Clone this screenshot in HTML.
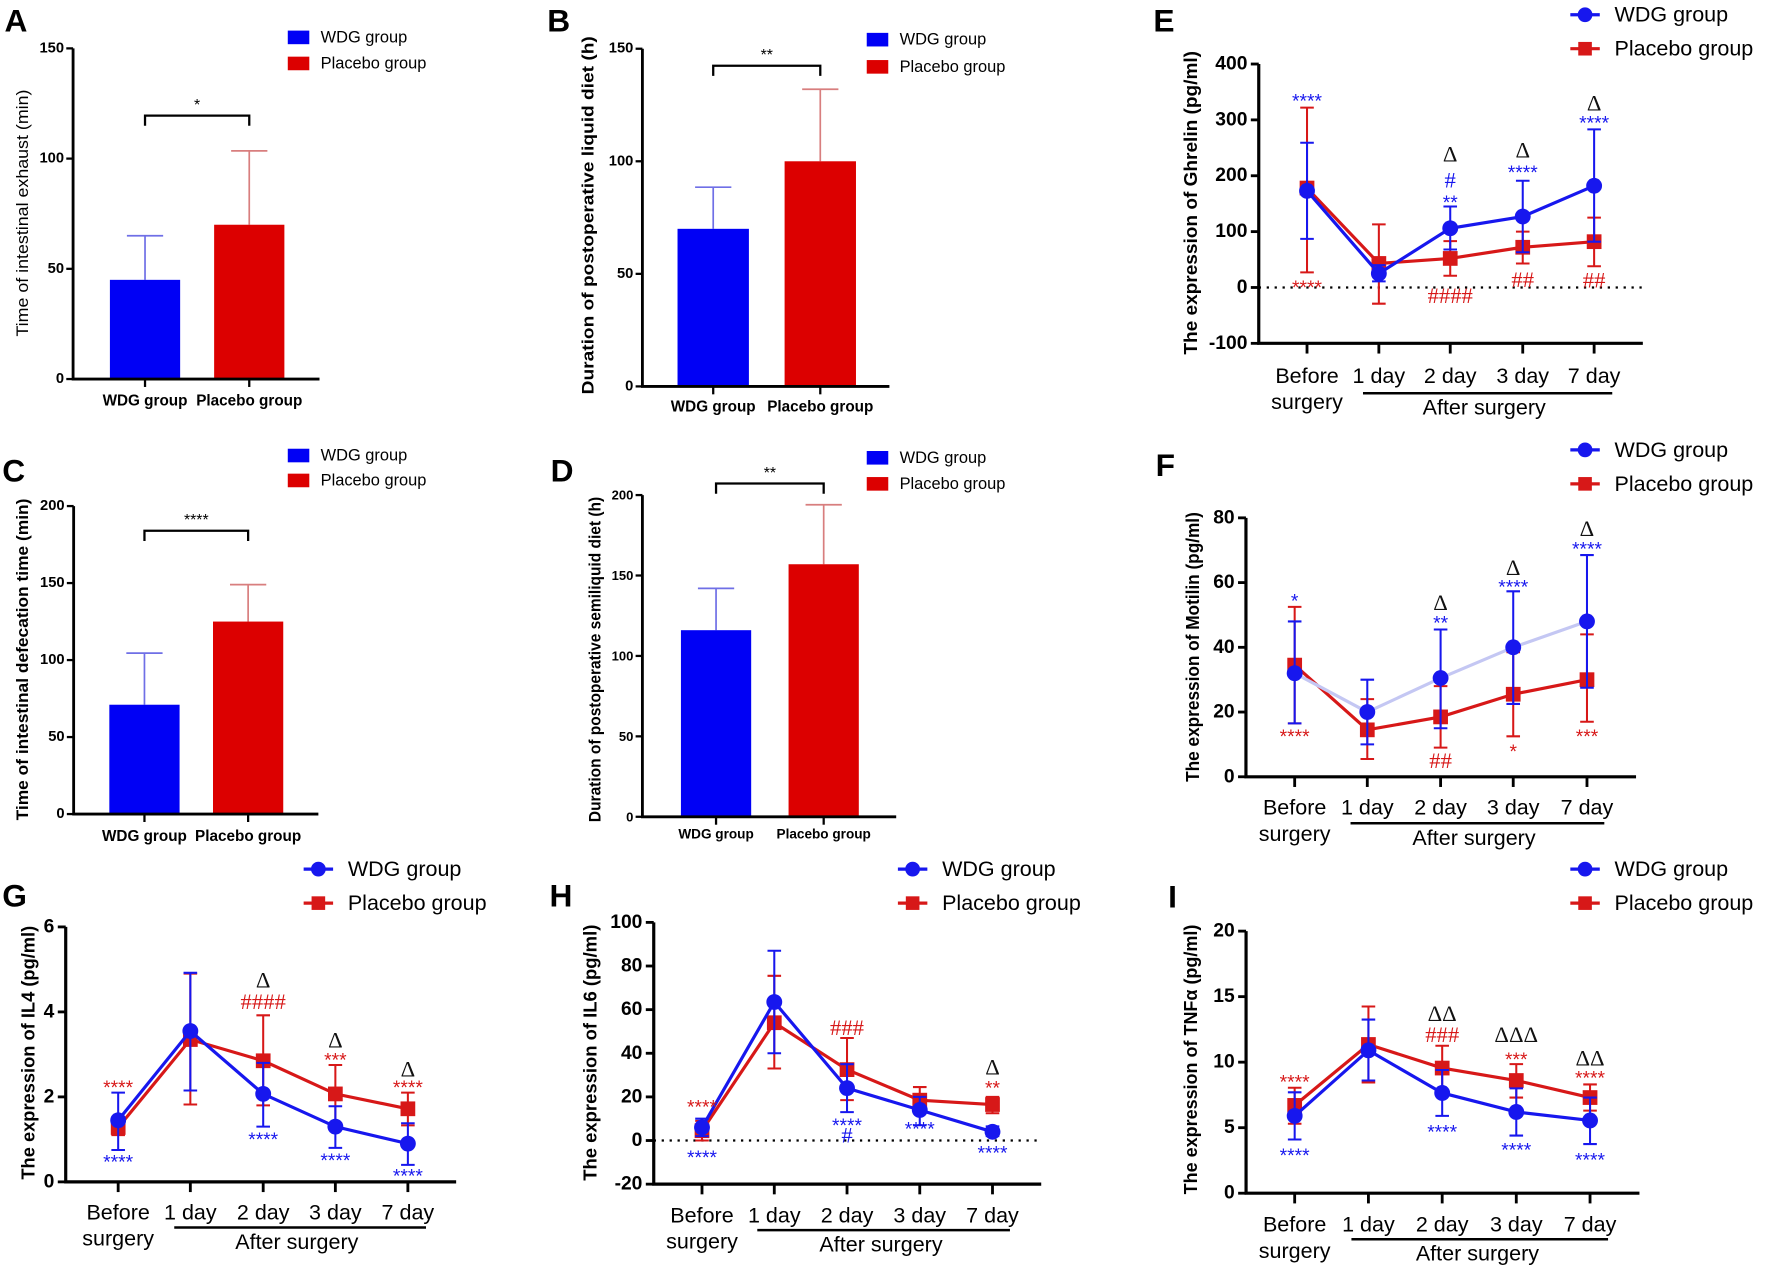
<!DOCTYPE html>
<html><head><meta charset="utf-8"><title>Figure</title>
<style>
html,body{margin:0;padding:0;background:#fff;}
svg{display:block;font-family:"Liberation Sans",Arial,sans-serif;}
</style></head>
<body>
<svg id="fig" xmlns="http://www.w3.org/2000/svg" width="1772" height="1268" viewBox="0 0 1564 1119" preserveAspectRatio="none"></svg>
<script>
// ---------- data ----------
const barGroups = ['WDG group', 'Placebo group'];
const exhaustMean = [45, 70];
const exhaustSD = [20, 33.5];
const liquidMean = [70, 100];
const liquidSD = [18.5, 32];
const defecationMean = [71, 125];
const defecationSD = [33.5, 24];
const semiliquidMean = [116, 157];
const semiliquidSD = [26, 37];
const ticks150 = [0, 50, 100, 150];
const ticks200 = [0, 50, 100, 150, 200];

const timeCats = ['Before', '1 day', '2 day', '3 day', '7 day'];

const ghrelinTicks = [-100, 0, 100, 200, 300, 400];
const ghrelinWdg = [173, 25, 106, 127, 182];
const ghrelinWdgHi = [259, 40, 145, 191, 283];
const ghrelinWdgLo = [87, 11, 68, 63, 82];
const ghrelinPla = [178, 43, 52, 72, 82];
const ghrelinPlaHi = [322, 113, 83, 100, 125];
const ghrelinPlaLo = [27, -29, 21, 43, 38];
const ghrelinNotes = [[0,341,'****','b'],[0,7,'****','r'],[2,239,'Δ','k'],[2,192,'#','b'],[2,159,'**','b'],[2,-14,'####','r'],[3,246,'Δ','k'],[3,213,'****','b'],[3,14,'##','r'],[4,330,'Δ','k'],[4,302,'****','b'],[4,13,'##','r']];

const motilinTicks = [0, 20, 40, 60, 80];
const motilinWdg = [32, 20, 30.5, 40, 48];
const motilinWdgHi = [48, 30, 45.5, 57.3, 68.5];
const motilinWdgLo = [16.5, 10, 15, 22.5, 27.5];
const motilinPla = [34.5, 14.5, 18.5, 25.5, 30];
const motilinPlaHi = [52.5, 24, 28, 38.5, 44];
const motilinPlaLo = [16.5, 5.5, 9, 12.5, 17];
const motilinNotes = [[0,55.6,'*','b'],[0,13.7,'****','r'],[2,53.8,'Δ','k'],[2,48.7,'**','b'],[2,5.1,'##','r'],[3,64.7,'Δ','k'],[3,59.9,'****','b'],[3,9,'*','r'],[4,76.7,'Δ','k'],[4,71.6,'****','b'],[4,13.7,'***','r']];

const il4Ticks = [0, 2, 4, 6];
const il4Wdg = [1.45, 3.55, 2.07, 1.3, 0.9];
const il4WdgHi = [2.1, 4.92, 2.8, 1.78, 1.38];
const il4WdgLo = [0.75, 2.15, 1.3, 0.8, 0.4];
const il4Pla = [1.28, 3.35, 2.85, 2.07, 1.72];
const il4PlaHi = [1.45, 4.9, 3.92, 2.75, 2.1];
const il4PlaLo = [1.1, 1.82, 1.8, 1.38, 1.33];
const il4Notes = [[0,2.32,'****','r'],[0,0.56,'****','b'],[2,4.75,'Δ','k'],[2,4.24,'####','r'],[2,1.09,'****','b'],[3,3.34,'Δ','k'],[3,2.97,'***','r'],[3,0.6,'****','b'],[4,2.66,'Δ','k'],[4,2.32,'****','r'],[4,0.23,'****','b']];

const il6Ticks = [-20, 0, 20, 40, 60, 80, 100];
const il6Wdg = [6, 63.5, 24, 14, 4];
const il6WdgHi = [10, 87, 35, 20, 6.5];
const il6WdgLo = [2, 40, 13, 7, 2];
const il6Pla = [4.5, 54, 32.5, 18.5, 16.5];
const il6PlaHi = [9, 75.5, 47, 24.5, 20];
const il6PlaLo = [0, 33, 18.5, 13, 12.5];
const il6Notes = [[0,17.2,'****','r'],[0,-5.8,'****','b'],[2,51.9,'###','r'],[2,8.7,'****','b'],[2,2.6,'#','b'],[3,7.2,'****','b'],[4,33.7,'Δ','k'],[4,25.9,'**','r'],[4,-3.8,'****','b']];

const tnfTicks = [0, 5, 10, 15, 20];
const tnfWdg = [5.9, 10.9, 7.65, 6.2, 5.55];
const tnfWdgHi = [7.7, 13.25, 9.4, 8, 7.3];
const tnfWdgLo = [4.1, 8.6, 5.9, 4.4, 3.75];
const tnfPla = [6.7, 11.35, 9.55, 8.6, 7.3];
const tnfPlaHi = [8.05, 14.25, 11.25, 9.85, 8.3];
const tnfPlaLo = [5.3, 8.45, 7.85, 7.3, 6.3];
const tnfNotes = [[0,8.8,'****','r'],[0,3.2,'****','b'],[2,13.7,'ΔΔ','k'],[2,12.1,'###','r'],[2,5.0,'****','b'],[3,12.1,'ΔΔΔ','k'],[3,10.5,'***','r'],[3,3.6,'****','b'],[4,10.3,'ΔΔ','k'],[4,9.1,'****','r'],[4,2.85,'****','b']];

// ---------- helpers ----------
const NS = 'http://www.w3.org/2000/svg';
const svg = document.getElementById('fig');
function mk(tag, attrs, parent) {
  const e = document.createElementNS(NS, tag);
  for (const k in attrs) e.setAttribute(k, attrs[k]);
  (parent || svg).appendChild(e);
  return e;
}
function txt(str, attrs, parent) { const e = mk('text', attrs, parent); e.textContent = str; return e; }
const BLUE = '#1717ee', RED = '#d71818';
const COL = { b: BLUE, r: RED, k: '#111' };

function letter(ch, x, y) {
  const t = txt(ch, { x: x, y: y, 'font-size': 28, 'font-weight': 'bold', fill: '#000' });
  
  
}

// ---------- bar panel ----------
function barPanel(id, cfg, means, sds, ticks) {
  const g = mk('g', {});
  
  
  const yMaxV = ticks[ticks.length - 1];
  const sy = v => cfg.y0 + (cfg.yTop - cfg.y0) * v / yMaxV;
  ticks.forEach(v => {
    const tk = mk('line', { x1: cfg.ax - 6, x2: cfg.ax, y1: sy(v), y2: sy(v), stroke: '#000', 'stroke-width': 2 }, g);
    
    
    const tl = txt(String(v), { x: cfg.ax - 8, y: sy(v), 'text-anchor': 'end', 'dominant-baseline': 'central', 'font-size': cfg.tickFs, 'font-weight': 'bold' }, g);
    
    
  });
  const colors = ['#0000f5', '#dc0000'];
  const errCol = ['#6f6fe6', '#d87e7e'];
  means.forEach((m, i) => {
    const cx = cfg.centers[i];
    const eb = mk('line', { x1: cx, x2: cx, y1: sy(m), y2: sy(m + sds[i]), stroke: errCol[i], 'stroke-width': 1.5 }, g);
    
    
    const cap = mk('line', { x1: cx - 16, x2: cx + 16, y1: sy(m + sds[i]), y2: sy(m + sds[i]), stroke: errCol[i], 'stroke-width': 1.5 }, g);
    
    
    const r = mk('rect', { x: cx - cfg.bw / 2, y: sy(m), width: cfg.bw, height: sy(0) - sy(m), fill: colors[i] }, g);
    
    
    const xt = mk('line', { x1: cx, x2: cx, y1: sy(0), y2: sy(0) + 7, stroke: '#000', 'stroke-width': 2 }, g);
    
    
    const xl = txt(barGroups[i], { x: cx, y: cfg.xlY, 'text-anchor': 'middle', 'font-size': cfg.xlFs, 'font-weight': 'bold' }, g);
    
    
  });
  const axes = mk('path', { d: `M${cfg.ax},${cfg.yTop} V${cfg.y0} H${cfg.end}`, fill: 'none', stroke: '#000', 'stroke-width': 2.5 }, g);
  
  
  const br = mk('path', { d: `M${cfg.centers[0]},${cfg.brY + 9} V${cfg.brY} H${cfg.centers[1]} V${cfg.brY + 9}`, fill: 'none', stroke: '#000', 'stroke-width': 2 }, g);
  
  
  const st = txt(cfg.star, { x: (cfg.centers[0] + cfg.centers[1]) / 2, y: cfg.brY - 5, 'text-anchor': 'middle', 'font-size': 14 }, g);
  
  
  const yl = txt(cfg.ylabel, { x: 0, y: 0, transform: `translate(${cfg.ylX},${cfg.ylY}) rotate(-90)`, 'text-anchor': 'middle', 'dominant-baseline': 'central', 'font-size': 15, 'font-weight': cfg.ylBold ? 'bold' : 'normal', textLength: cfg.ylLen, lengthAdjust: 'spacingAndGlyphs' }, g);
  
  
  [0, 1].forEach(i => {
    const lg = mk('g', {}, g);
    
    
    mk('rect', { x: cfg.lgX, y: cfg.lgY[i] - 6, width: 19, height: 12, fill: colors[i] }, lg);
    txt(barGroups[i], { x: cfg.lgX + 29, y: cfg.lgY[i], 'dominant-baseline': 'central', 'font-size': 14.5 }, lg);
  });
}

// ---------- line panel ----------
function linePanel(id, cfg, ticks, wdg, wdgHi, wdgLo, pla, plaHi, plaLo, notes) {
  const g = mk('g', {});
  
  
  const lo = ticks[0], hi = ticks[ticks.length - 1];
  const sy = v => cfg.yBot + (cfg.yTop - cfg.yBot) * (v - lo) / (hi - lo);
  ticks.forEach(v => {
    const tk = mk('line', { x1: cfg.ax - 7, x2: cfg.ax, y1: sy(v), y2: sy(v), stroke: '#000', 'stroke-width': 2.5 }, g);
    
    
    const tl = txt(String(v), { x: cfg.ax - 10, y: sy(v), 'text-anchor': 'end', 'dominant-baseline': 'central', 'font-size': 17, 'font-weight': 'bold' }, g);
    
    
  });
  if (lo < 0) {
    const z = mk('line', { x1: cfg.ax, x2: cfg.end, y1: sy(0), y2: sy(0), stroke: '#000', 'stroke-width': 2, 'stroke-dasharray': '2 5' }, g);
    
    
  }
  const axes = mk('path', { d: `M${cfg.ax},${cfg.yTop} V${cfg.yBot} H${cfg.end}`, fill: 'none', stroke: '#000', 'stroke-width': 2.8 }, g);
  
  
  cfg.cats.forEach((cx, i) => {
    const xt = mk('line', { x1: cx, x2: cx, y1: cfg.yBot, y2: cfg.yBot + 9, stroke: '#000', 'stroke-width': 2.5 }, g);
    
    
    const xl = txt(timeCats[i], { x: cx, y: cfg.xlY, 'text-anchor': 'middle', 'font-size': 19 }, g);
    
    
  });
  const s2 = txt('surgery', { x: cfg.cats[0], y: cfg.xlY + 23, 'text-anchor': 'middle', 'font-size': 19 }, g);
  
  
  const ul = mk('line', { x1: cfg.ul[0], x2: cfg.ul[1], y1: cfg.ulY, y2: cfg.ulY, stroke: '#000', 'stroke-width': 2.2 }, g);
  
  
  const af = txt('After surgery', { x: cfg.afX, y: cfg.ulY + 19, 'text-anchor': 'middle', 'font-size': 19 }, g);
  
  
  const yl = txt(cfg.ylabel, { x: 0, y: 0, transform: `translate(${cfg.ylX},${cfg.ylY}) rotate(-90)`, 'text-anchor': 'middle', 'dominant-baseline': 'central', 'font-size': 16, 'font-weight': 'bold', textLength: cfg.ylLen, lengthAdjust: 'spacingAndGlyphs' }, g);
  
  

  function series(name, vals, his, los, col, lineCol, square) {
    const sg = mk('g', {}, g);
    
    
    vals.forEach((v, i) => {
      const cx = cfg.cats[i];
      const e = mk('path', { d: `M${cx - 6},${sy(his[i])} H${cx + 6} M${cx},${sy(his[i])} V${sy(los[i])} M${cx - 6},${sy(los[i])} H${cx + 6}`, stroke: col, 'stroke-width': 1.8, fill: 'none' }, sg);
      
      
    });
    const pts = vals.map((v, i) => cfg.cats[i] + ',' + sy(v)).join(' ');
    const pl = mk('polyline', { points: pts, fill: 'none', stroke: lineCol, 'stroke-width': 2.8 }, sg);
    
    
    vals.forEach((v, i) => {
      const cx = cfg.cats[i];
      let m;
      if (square) m = mk('rect', { x: cx - 6.5, y: sy(v) - 6.5, width: 13, height: 13, fill: col }, sg);
      else m = mk('circle', { cx: cx, cy: sy(v), r: 7, fill: col }, sg);
      
      
    });
  }
  series('placebo', pla, plaHi, plaLo, RED, RED, true);
  series('wdg', wdg, wdgHi, wdgLo, BLUE, cfg.wdgLine || BLUE, false);

  notes.forEach(n => {
    const cx = cfg.cats[n[0]];
    const s = n[2];
    let fs = 20, fam = '"Liberation Serif", serif', dy = 0;
    if (s[0] === '*') { fs = 17; dy = 4.5; fam = '"Liberation Sans", sans-serif'; }
    const t = txt(s, { x: cx, y: sy(n[1]) + dy, 'text-anchor': 'middle', 'dominant-baseline': 'central', 'font-size': fs, 'font-family': fam, fill: COL[n[3]] }, g);
    
    
  });

  [['WDG group', BLUE, false], ['Placebo group', RED, true]].forEach((L, i) => {
    const lg = mk('g', {}, g);
    
    
    const y = cfg.lgY[i];
    mk('line', { x1: cfg.lgX - 13, x2: cfg.lgX + 13, y1: y, y2: y, stroke: L[1], 'stroke-width': 2.8 }, lg);
    if (L[2]) mk('rect', { x: cfg.lgX - 6, y: y - 6, width: 12, height: 12, fill: L[1] }, lg);
    else mk('circle', { cx: cfg.lgX, cy: y, r: 6.5, fill: L[1] }, lg);
    txt(L[0], { x: cfg.lgX + 26, y: y, 'dominant-baseline': 'central', 'font-size': 19 }, lg);
  });
}

// ---------- build ----------
letter('A', 4, 28); letter('B', 483, 28); letter('C', 2, 425); letter('D', 486, 425);
letter('E', 1018, 28); letter('F', 1020, 420); letter('G', 2, 800); letter('H', 485, 800); letter('I', 1031, 801);

barPanel('a', { ax: 64.5, end: 282, y0: 334.5, yTop: 42.7, centers: [128, 220], bw: 62, brY: 102, star: '*', tickFs: 13, xlY: 358, xlFs: 13.5,
  ylabel: 'Time of intestinal exhaust (min)', ylX: 20, ylY: 188, ylLen: 218, ylBold: false, lgX: 254, lgY: [33, 56] }, exhaustMean, exhaustSD, ticks150);
barPanel('b', { ax: 567, end: 785, y0: 341, yTop: 43, centers: [629.5, 724], bw: 63, brY: 58, star: '**', tickFs: 13, xlY: 363, xlFs: 13.5,
  ylabel: 'Duration of postoperative liquid diet (h)', ylX: 519, ylY: 190, ylLen: 316, ylBold: true, lgX: 765, lgY: [35, 59] }, liquidMean, liquidSD, ticks150);
barPanel('c', { ax: 65, end: 281, y0: 718.4, yTop: 446.6, centers: [127.5, 219], bw: 62, brY: 468.4, star: '****', tickFs: 13, xlY: 742, xlFs: 13.5,
  ylabel: 'Time of intestinal defecation time (min)', ylX: 20, ylY: 582, ylLen: 284, ylBold: true, lgX: 254, lgY: [402, 424] }, defecationMean, defecationSD, ticks200);
barPanel('d', { ax: 567, end: 791, y0: 720.8, yTop: 436.9, centers: [632, 727], bw: 62, brY: 426.7, star: '**', tickFs: 11.5, xlY: 740, xlFs: 12,
  ylabel: 'Duration of postoperative semiliquid diet (h)', ylX: 525, ylY: 582, ylLen: 287, ylBold: true, lgX: 765, lgY: [404, 427] }, semiliquidMean, semiliquidSD, ticks200);

linePanel('ghrelin', { ax: 1111, end: 1450, yTop: 56.5, yBot: 303, cats: [1153.6, 1217, 1280, 1344, 1407], xlY: 338, ul: [1203, 1423], ulY: 347, afX: 1310,
  ylabel: 'The expression of Ghrelin (pg/ml)', ylX: 1051, ylY: 179, ylLen: 268, lgX: 1399, lgY: [13, 43] },
  ghrelinTicks, ghrelinWdg, ghrelinWdgHi, ghrelinWdgLo, ghrelinPla, ghrelinPlaHi, ghrelinPlaLo, ghrelinNotes);
linePanel('motilin', { ax: 1099.7, end: 1444, yTop: 457, yBot: 685.5, cats: [1142.7, 1206.8, 1271.5, 1335.6, 1400.7], xlY: 719, ul: [1192, 1416], ulY: 726.5, afX: 1301,
  ylabel: 'The expression of Motilin (pg/ml)', ylX: 1053, ylY: 571, ylLen: 238, lgX: 1399, lgY: [397, 427], wdgLine: '#c4c7f3' },
  motilinTicks, motilinWdg, motilinWdgHi, motilinWdgLo, motilinPla, motilinPlaHi, motilinPlaLo, motilinNotes);
linePanel('il4', { ax: 58, end: 402.6, yTop: 818, yBot: 1043, cats: [104.3, 168, 232.3, 296, 360], xlY: 1076, ul: [153.8, 376], ulY: 1083.3, afX: 262,
  ylabel: 'The expression of IL4 (pg/ml)', ylX: 25, ylY: 929, ylLen: 224, lgX: 281, lgY: [767, 797] },
  il4Ticks, il4Wdg, il4WdgHi, il4WdgLo, il4Pla, il4PlaHi, il4PlaLo, il4Notes);
linePanel('il6', { ax: 577, end: 919, yTop: 814, yBot: 1045, cats: [619.6, 683.4, 747.6, 811.8, 876], xlY: 1079, ul: [668.4, 891.4], ulY: 1085.6, afX: 777.6,
  ylabel: 'The expression of IL6 (pg/ml)', ylX: 521, ylY: 929, ylLen: 226, lgX: 805.5, lgY: [767, 797] },
  il6Ticks, il6Wdg, il6WdgHi, il6WdgLo, il6Pla, il6PlaHi, il6PlaLo, il6Notes);
linePanel('tnf', { ax: 1099.8, end: 1447, yTop: 821.7, yBot: 1053, cats: [1142.7, 1207.8, 1272.9, 1338.3, 1403.4], xlY: 1087, ul: [1192.8, 1419.3], ulY: 1093.6, afX: 1304,
  ylabel: 'The expression of TNFα (pg/ml)', ylX: 1051, ylY: 935, ylLen: 238, lgX: 1399, lgY: [767, 797] },
  tnfTicks, tnfWdg, tnfWdgHi, tnfWdgLo, tnfPla, tnfPlaHi, tnfPlaLo, tnfNotes);
</script>
</body></html>
